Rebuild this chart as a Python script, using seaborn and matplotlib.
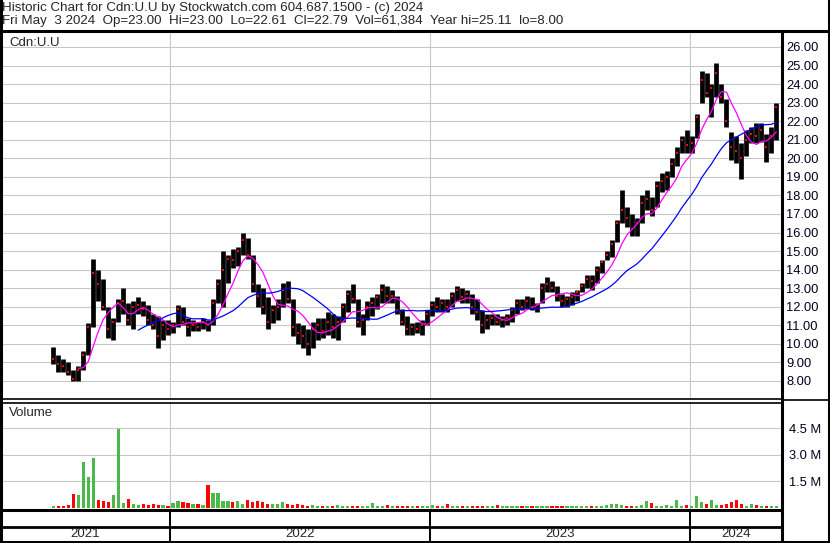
import pandas as pd
import seaborn as sns
import matplotlib.pyplot as plt
from matplotlib.lines import Line2D

# weekly readings, week of Jul 23 2021 .. week of May 3 2024
high = [9.85, 9.4, 9.2, 9.0, 8.6, 8.8, 9.6, 11.1, 14.6, 14.0,
        13.5, 12.0, 11.4, 12.4, 13.0, 12.2, 12.3, 12.55, 12.3, 12.1,
        11.6, 11.5, 11.3, 11.3, 11.2, 12.1, 12.0, 11.4, 11.3, 11.2,
        11.4, 11.3, 12.4, 13.5, 15.0, 14.8, 15.1, 15.2, 16.0, 15.7,
        14.8, 13.2, 13.0, 12.5, 12.1, 12.4, 13.3, 13.4, 12.4, 11.1,
        11.0, 10.8, 11.2, 11.4, 11.4, 11.7, 11.6, 11.5, 12.2, 12.9,
        13.2, 12.4, 11.6, 12.3, 12.5, 12.7, 13.2, 13.1, 12.9, 12.6,
        11.9, 11.5, 11.1, 11.2, 11.3, 11.8, 12.3, 12.5, 12.4, 12.4,
        12.8, 13.1, 13.0, 12.9, 12.7, 12.4, 11.8, 11.6, 11.6, 11.6,
        11.5, 11.6, 12.0, 12.4, 12.4, 12.6, 12.5, 12.2, 13.3, 13.6,
        13.4, 13.1, 12.7, 12.6, 12.8, 12.9, 13.3, 13.7, 13.7, 14.2,
        14.5, 15.0, 15.6, 16.7, 18.3, 17.4, 17.0, 16.8, 18.0, 18.3,
        17.9, 18.8, 19.2, 19.3, 20.0, 20.6, 21.2, 21.5, 21.2, 22.4,
        24.7, 24.6, 24.0, 25.11, 24.0, 23.2, 21.4, 21.2, 20.8, 21.5,
        21.7, 21.9, 21.9, 21.3, 21.7, 23.0]
low = [8.9, 8.5, 8.5, 8.3, 8.0, 8.0, 8.6, 9.4, 10.9, 12.3,
       11.8, 10.3, 10.2, 11.2, 11.6, 11.0, 10.8, 11.6, 11.5, 11.0,
       10.8, 9.8, 10.2, 10.5, 10.6, 10.9, 11.0, 10.4, 10.7, 10.7,
       10.8, 10.7, 11.0, 12.2, 12.0, 13.3, 14.1, 14.2, 14.8, 14.6,
       12.8, 12.0, 11.6, 10.8, 11.1, 11.3, 12.0, 12.2, 10.4, 10.0,
       9.8, 9.4, 9.8, 10.2, 10.3, 10.5, 10.3, 10.2, 11.2, 11.7,
       12.2, 10.9, 10.5, 11.3, 11.5, 11.9, 12.2, 12.2, 12.2, 11.6,
       11.0, 10.5, 10.5, 10.6, 10.5, 11.0, 11.5, 11.7, 11.7, 11.7,
       12.0, 12.3, 12.2, 12.2, 11.6, 11.3, 10.6, 10.8, 11.0, 11.0,
       10.9, 11.0, 11.2, 11.6, 11.8, 11.9, 11.8, 11.7, 12.2, 12.8,
       12.8, 12.3, 12.0, 12.0, 12.1, 12.3, 12.8, 13.0, 12.9, 13.3,
       13.8, 14.5, 14.7, 15.5, 16.5, 16.3, 15.8, 15.8, 16.5, 17.2,
       16.9, 17.4, 18.2, 18.3, 19.0, 19.6, 20.3, 20.3, 20.3, 21.1,
       23.0, 23.3, 22.2, 23.3, 23.0, 21.7, 19.9, 19.75, 18.9, 20.1,
       20.8, 20.8, 20.9, 19.8, 20.3, 21.0]
close = [9.2, 8.9, 8.8, 8.5, 8.1, 8.6, 9.4, 10.9, 13.8, 13.2,
         12.0, 10.8, 11.2, 12.2, 12.3, 11.3, 12.0, 12.1, 11.9, 11.3,
         11.0, 10.4, 11.0, 10.8, 11.0, 11.9, 11.2, 10.9, 11.0, 10.9,
         11.2, 11.0, 12.2, 13.2, 14.0, 14.6, 14.5, 15.0, 15.6, 14.8,
         13.2, 12.6, 12.0, 11.2, 11.8, 12.0, 12.9, 12.4, 10.9, 10.6,
         10.4, 10.0, 10.8, 11.0, 10.7, 11.2, 10.9, 11.2, 12.0, 12.7,
         12.4, 11.2, 11.3, 12.0, 12.2, 12.5, 12.9, 12.6, 12.6, 11.8,
         11.2, 10.8, 10.9, 10.8, 11.0, 11.6, 12.1, 12.0, 12.2, 12.0,
         12.6, 12.9, 12.5, 12.7, 12.0, 11.7, 11.0, 11.3, 11.4, 11.2,
         11.3, 11.4, 11.8, 12.2, 12.0, 12.3, 12.0, 12.1, 13.0, 13.2,
         13.0, 12.6, 12.3, 12.4, 12.5, 12.8, 13.1, 13.5, 13.4, 14.0,
         14.4, 14.8, 15.4, 16.5, 17.2, 16.8, 16.2, 16.5, 17.6, 17.8,
         17.2, 18.5, 18.8, 19.0, 19.7, 20.3, 21.0, 20.7, 20.8, 22.2,
         24.2, 23.5, 23.8, 24.6, 23.3, 22.0, 20.6, 20.4, 20.0, 21.0,
         21.3, 21.2, 21.5, 20.6, 21.2, 22.79]
# biggest daily volume of each week, millions
volume = [0.1, 0.08, 0.1, 0.12, 0.75, 0.7, 2.6, 1.75, 2.8, 0.4,
          0.35, 0.3, 0.7, 4.45, 0.25, 0.5, 0.2, 0.15, 0.2, 0.15,
          0.2, 0.15, 0.15, 0.1, 0.25, 0.35, 0.3, 0.25, 0.2, 0.2,
          0.15, 1.3, 0.8, 0.85, 0.35, 0.35, 0.3, 0.35, 0.2, 0.45,
          0.3, 0.35, 0.3, 0.2, 0.2, 0.2, 0.3, 0.2, 0.15, 0.2,
          0.15, 0.1, 0.15, 0.1, 0.1, 0.1, 0.1, 0.15, 0.1, 0.1,
          0.1, 0.1, 0.1, 0.1, 0.25, 0.1, 0.1, 0.15, 0.1, 0.1,
          0.08, 0.1, 0.08, 0.1, 0.08, 0.1, 0.12, 0.08, 0.1, 0.18,
          0.1, 0.08, 0.1, 0.08, 0.1, 0.08, 0.1, 0.08, 0.1, 0.17,
          0.08, 0.1, 0.08, 0.1, 0.08, 0.1, 0.08, 0.1, 0.08, 0.08,
          0.1, 0.08, 0.1, 0.08, 0.1, 0.1, 0.08, 0.1, 0.1, 0.1,
          0.1, 0.12, 0.2, 0.18, 0.17, 0.1, 0.1, 0.1, 0.12, 0.35,
          0.25, 0.1, 0.1, 0.12, 0.1, 0.4, 0.1, 0.12, 0.1, 0.65,
          0.3, 0.2, 0.4, 0.15, 0.12, 0.2, 0.3, 0.45, 0.2, 0.1,
          0.2, 0.15, 0.1, 0.1, 0.1, 0.1]

price_ticks = list(range(8, 27))
vol_ticks = [1.5, 3.0, 4.5]
years = ['2021', '2022', '2023', '2024']

weeks = pd.date_range('2021-07-23', periods=len(close), freq='W-FRI')
df = pd.DataFrame({'date': weeks - pd.Timedelta(days=2), 'high': high, 'low': low,
                   'close': close, 'volume': volume})
df['ma_fast'] = df['close'].rolling(6).mean()
df['ma_slow'] = df['close'].rolling(18).mean()
df['up'] = df['close'].diff().fillna(0) >= 0

sns.set_theme(style='white')
plt.rcParams['font.family'] = ['Liberation Sans', 'DejaVu Sans']
plt.rcParams['font.size'] = 9

W, H = 830, 543
fig = plt.figure(figsize=(W / 100, H / 100), dpi=100)

def box(x0, y0, x1, y1):
    return [x0 / W, 1 - y1 / H, (x1 - x0) / W, (y1 - y0) / H]

x0 = pd.Timestamp('2021-05-07')
x1 = pd.Timestamp('2024-05-09')
bounds = [pd.Timestamp(f'{y}-01-01') for y in years[1:]]
grid = '#c8c8c8'

# price panel
ax = fig.add_axes(box(0, 31, 782, 399))
for y in price_ticks:
    ax.axhline(y, color=grid, lw=0.8, zorder=0)
for b in bounds:
    ax.axvline(b, color=grid, lw=0.8, zorder=0)
ax.vlines(df['date'], df['low'], df['high'], color='black', lw=3.4, zorder=2)
sns.scatterplot(data=df, x='date', y='close', color='red', marker='s', s=4,
                linewidth=0, ax=ax, zorder=3)
sns.lineplot(data=df, x='date', y='ma_fast', color='#ff00ff', lw=0.9, ax=ax, zorder=4)
sns.lineplot(data=df, x='date', y='ma_slow', color='#0000ff', lw=0.9, ax=ax, zorder=4)
ax.set_xlim(x0, x1)
ax.set_ylim(7.03, 26.86)
ax.yaxis.tick_right()
ax.set_yticks(price_ticks)
ax.set_yticklabels([f'{v:.2f}' for v in price_ticks])
ax.tick_params(axis='y', length=0, pad=3, labelsize=9.3, colors='#000020')
ax.set_xticks([])
ax.set_xlabel('')
ax.set_ylabel('')
for s in ax.spines.values():
    s.set_visible(False)
ax.text(0.012, 0.967, 'Cdn:U.U', transform=ax.transAxes, fontsize=9.5,
        va='center', ha='left')

# volume panel
axv = fig.add_axes(box(0, 402, 782, 509))
for y in vol_ticks:
    axv.axhline(y, color=grid, lw=0.8, zorder=0)
for b in bounds:
    axv.axvline(b, color=grid, lw=0.8, zorder=0)
axv.bar(df['date'], df['volume'], width=4.5, linewidth=0,
        color=['#4cb84c' if u else '#ff0000' for u in df['up']], zorder=2)
axv.set_xlim(x0, x1)
axv.set_ylim(-0.085, 6.0)
axv.yaxis.tick_right()
axv.set_yticks(vol_ticks)
axv.set_yticklabels([f'{v:.1f} M' for v in vol_ticks])
axv.tick_params(axis='y', length=0, pad=5, labelsize=9.3, colors='#000020')
axv.set_xticks([])
for s in axv.spines.values():
    s.set_visible(False)
axv.text(0.012, 0.9, 'Volume', transform=axv.transAxes, fontsize=9.5,
         va='center', ha='left')

# year strip
axd = fig.add_axes(box(0, 509, 782, 541))
axd.set_xlim(x0, x1)
axd.set_ylim(0, 1)
for b in bounds:
    axd.axvline(b, color='black', lw=1.4)
axd.axhline(14 / 32, color='black', lw=2)
edges = [x0] + bounds + [x1]
for i, yr in enumerate(years):
    mid = edges[i] + (edges[i + 1] - edges[i]) / 2
    axd.text(mid, 7 / 32, yr, ha='center', va='center', fontsize=9.5)
axd.axis('off')

# outer frame and header
fig.text(2 / W, 1 - 8 / H,
         'Historic Chart for Cdn:U.U by Stockwatch.com 604.687.1500 - (c) 2024',
         fontsize=9.6, va='center', ha='left')
fig.text(2 / W, 1 - 21 / H,
         'Fri May  3 2024  Op=23.00  Hi=23.00  Lo=22.61  Cl=22.79  Vol=61,384  Year hi=25.11  lo=8.00',
         fontsize=9.6, va='center', ha='left')
frame = [((0, 829), (31, 31), 2.2), ((782, 782), (31, 541), 2.2),
         ((829, 829), (0, 541), 2.2), ((0.8, 0.8), (0, 541), 2.2),
         ((0, 782), (399, 399), 1.2), ((0, 782), (402.5, 402.5), 1.2),
         ((782, 829), (400, 400), 1.2), ((0, 782), (509.5, 509.5), 2.2),
         ((0, 829), (541.5, 541.5), 2.2)]
for xs, ys, lw in frame:
    fig.add_artist(Line2D([x / W for x in xs], [1 - y / H for y in ys],
                          color='black', lw=lw))

plt.savefig('out.png', dpi=100)
